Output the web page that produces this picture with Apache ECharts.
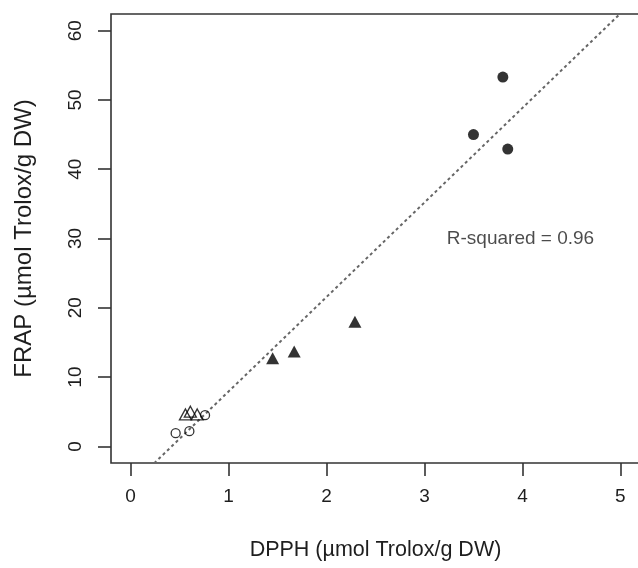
<!DOCTYPE html>
<html>
<head>
<meta charset="utf-8">
<script src="https://cdn.jsdelivr.net/npm/echarts@6/dist/echarts.min.js"></script>
<style>html,body{margin:0;padding:0;background:#fff;}#c{width:638px;height:568px;}</style>
</head>
<body>
<div id="c"></div>
<script>
// Data
const filledCircles = [[3.80, 53.3], [3.50, 45.0], [3.85, 42.9]];
const filledTriangles = [[1.45, 12.7], [1.67, 13.7], [2.29, 18.0]];
const openTriangles = [[0.56, 4.6], [0.61, 5.0], [0.68, 4.6]];
const openCircles = [[0.46, 1.9], [0.60, 2.2], [0.76, 4.5]];
const fitSlope = 13.64;
const fitIntercept = -5.72;
const xTicks = [0, 1, 2, 3, 4, 5];
const yTicks = [0, 10, 20, 30, 40, 50, 60];
const annotation = { x: 3.98, y: 30.0, text: 'R-squared = 0.96' };
const xRange = [-0.2, 5.2];
const yRange = [-2.4, 62.4];

const fitLine = xRange.map(x => [x, fitSlope * x + fitIntercept]);
const font = 'Liberation Sans, Arial, sans-serif';
const ink = '#1e1e1e';

const chart = echarts.init(document.getElementById('c'), null, { renderer: 'canvas' });
chart.setOption({
  animation: false,
  backgroundColor: '#fff',
  grid: { left: 111, top: 14, width: 529, height: 449, outerBoundsMode: 'none', containLabel: false,
          show: true, borderColor: '#333', borderWidth: 1.6, backgroundColor: 'transparent' },
  xAxis: {
    type: 'value', min: xRange[0], max: xRange[1],
    name: 'DPPH (µmol Trolox/g DW)', nameLocation: 'middle', nameGap: 76,
    nameTextStyle: { fontFamily: font, fontSize: 21.5, color: ink },
    axisLine: { show: false, onZero: false },
    axisTick: { show: true, inside: false, length: 13, customValues: xTicks, lineStyle: { color: '#333', width: 1.6 } },
    axisLabel: { customValues: xTicks, margin: 24, fontFamily: font, fontSize: 19, color: ink },
    splitLine: { show: false }
  },
  yAxis: {
    type: 'value', min: yRange[0], max: yRange[1],
    name: 'FRAP (µmol Trolox/g DW)', nameLocation: 'middle', nameGap: 75,
    nameTextStyle: { fontFamily: font, fontSize: 24, color: ink },
    axisLine: { show: false, onZero: false },
    axisTick: { show: true, length: 13, customValues: yTicks, lineStyle: { color: '#333', width: 1.6 } },
    axisLabel: { customValues: yTicks, rotate: 90, margin: 26, fontFamily: font, fontSize: 19, color: ink },
    splitLine: { show: false }
  },
  series: [
    { type: 'line', data: fitLine, symbol: 'none', clip: true, lineStyle: { color: '#666', width: 2, type: [3, 3] }, z: 1 },
    { type: 'scatter', data: filledCircles, symbol: 'circle', symbolSize: 11, itemStyle: { color: '#000' }, z: 3 },
    { type: 'scatter', data: filledTriangles, symbol: 'triangle', symbolSize: [13, 12], itemStyle: { color: '#000' }, z: 3 },
    { type: 'scatter', data: openTriangles, symbol: 'triangle', symbolSize: [12, 11], itemStyle: { color: 'rgba(255,255,255,0)', borderColor: '#000', borderWidth: 1.3 }, z: 3 },
    { type: 'scatter', data: openCircles, symbol: 'circle', symbolSize: 9, itemStyle: { color: 'rgba(255,255,255,0)', borderColor: '#000', borderWidth: 1.3 }, z: 3 },
    { type: 'scatter', data: [[annotation.x, annotation.y]], symbolSize: 0, silent: true,
      label: { show: true, position: 'inside', formatter: annotation.text, fontFamily: font, fontSize: 19, color: ink } }
  ]
});
</script>
</body>
</html>
